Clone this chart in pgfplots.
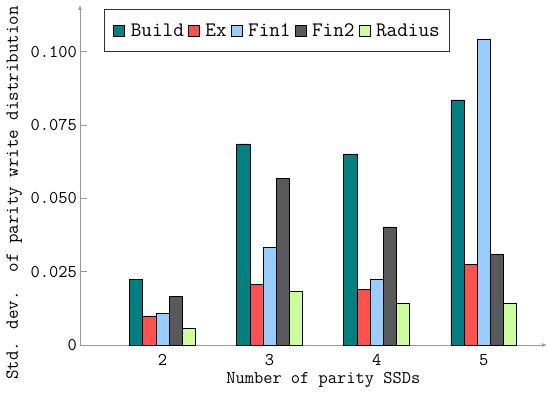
\documentclass[border=0pt]{standalone}
\usepackage{fontspec}
\usepackage{pgfplots}
\usetikzlibrary{arrows.meta}
\pgfplotsset{compat=1.18}
\definecolor{cBuild}{HTML}{008080}
\definecolor{cEx}{HTML}{FF5050}
\definecolor{cFinA}{HTML}{99CCFF}
\definecolor{cFinB}{HTML}{595959}
\definecolor{cRad}{HTML}{CCFF99}
\definecolor{axgray}{HTML}{9A9A9A}
\begin{document}
\begin{tikzpicture}
\useasboundingbox (-80bp,-48bp) rectangle (468bp,345bp);
\begin{axis}[
  at={(0,0)}, anchor=south west,
  scale only axis,
  width=467bp, height=340bp,
  xmin=1.23, xmax=5.59,
  ymin=0, ymax=0.116,
  axis lines=left,
  axis line style={axgray, line width=0.8pt, -{Latex[length=5bp,width=4bp]}},
  ybar=0pt,
  bar width=0.123,
  xtick={2,3,4,5},
  xticklabels={2,3,4,5},
  major x tick style={draw=none},
  extra x ticks={1.5,2.5,3.5,4.5,5.5},
  extra x tick labels={},
  extra x tick style={tick style={draw=black!80, line width=0.6pt}, major tick length=6bp, tick align=inside},
  ytick={0,0.025,0.05,0.075,0.1},
  yticklabels={0,0.025,0.050,0.075,0.100},
  tick align=inside,
  y tick style={axgray, line width=0.8pt},
  major tick length=7bp,
  ticklabel style={font=\ttfamily\fontsize{18}{20}\selectfont},
  xticklabel style={anchor=base, yshift=-20bp},
  yticklabel style={anchor=east, inner xsep=0pt, xshift=-3bp},
  xlabel={Number of parity SSDs},
  xlabel style={font=\ttfamily\fontsize{18}{20}\selectfont, at={(axis description cs:0.521,0)}, anchor=base, yshift=-38bp},
  ylabel={Std. dev.~~of parity write distribution},
  ylabel style={font=\ttfamily\fontsize{18.5}{20}\selectfont, at={(axis description cs:0,0.447)}, anchor=base, yshift=62bp},
  legend style={at={(axis description cs:24/467,336/340)}, anchor=north west, draw=black!80, line width=0.6pt,
    legend columns=-1, font=\ttfamily\fontsize{20.7}{22}\selectfont, inner ysep=12bp, inner xsep=9bp,
    nodes={inner xsep=0pt},
    /tikz/every even column/.append style={column sep=4bp},
    /tikz/every odd column/.append style={column sep=6bp}},
  legend image code/.code={\draw[#1, draw=black, line width=0.5pt] (0bp,-5.5bp) rectangle (11bp,5.5bp);},
  every axis plot/.append style={draw=black, line width=0.6pt},
  clip=false,
]
\addplot[fill=cBuild] coordinates {(2,0.0225) (3,0.0686) (4,0.0652) (5,0.0836)};
\addplot[fill=cEx] coordinates {(2,0.0099) (3,0.0208) (4,0.0191) (5,0.0276)};
\addplot[fill=cFinA] coordinates {(2,0.0109) (3,0.0334) (4,0.0225) (5,0.1044)};
\addplot[fill=cFinB] coordinates {(2,0.0167) (3,0.0568) (4,0.0403) (5,0.0310)};
\addplot[fill=cRad] coordinates {(2,0.0058) (3,0.0184) (4,0.0143) (5,0.0143)};
\legend{Build,Ex,Fin1,Fin2,Radius}
\end{axis}
\end{tikzpicture}
\end{document}
